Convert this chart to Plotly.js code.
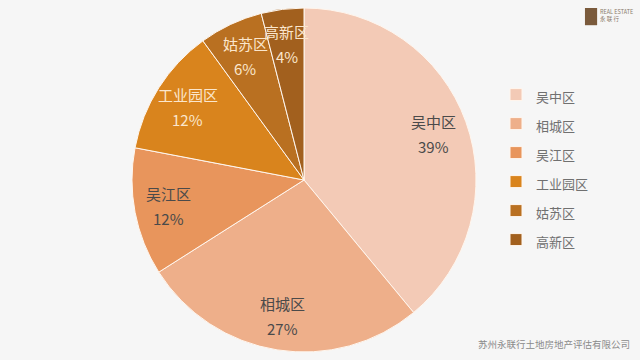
<!DOCTYPE html>
<html>
<head>
<meta charset="utf-8">
<script src="https://cdn.plot.ly/plotly-3.0.1.min.js"></script>
<style>
html,body{margin:0;padding:0;background:#f6f6f6;}
#chart{width:640px;height:360px;}
</style>
</head>
<body>
<div id="chart"></div>
<script>
const districts = ["吴中区", "相城区", "吴江区", "工业园区", "姑苏区", "高新区"];
const shares = [39, 27, 12, 12, 6, 4];
const sliceColors = ["#f3cab6", "#eeaf8a", "#e8955c", "#d9841d", "#b97021", "#a2601e"];
const textColors = ["#4a4a4a", "#4a4a4a", "#4a4a4a", "#fbe6cc", "#fbe6cc", "#fbe6cc"];

// pie geometry (paper units) used for label placement
const domX = [0.2, 0.75];
const cxPaper = (domX[0] + domX[1]) / 2;
const cyPaper = 0.5;
const W = 640, H = 360, mT = 8, mB = 8;
const plotH = H - mT - mB;
const Rpx = plotH / 2;
const labelFrac = 0.8;

const trace = {
  type: "pie",
  labels: districts.map(d => '<span style="font-size:13px">' + d + '</span>'),
  values: shares,
  sort: false,
  direction: "clockwise",
  rotation: 0,
  marker: {colors: sliceColors, line: {color: "#fff6ee", width: 1}},
  textinfo: "none",
  hoverinfo: "none",
  domain: {x: domX, y: [0, 1]}
};

const total = shares.reduce((a, b) => a + b, 0);
const annotations = [];
let cum = 0;
shares.forEach((v, i) => {
  const th = 2 * Math.PI * (cum + v / 2) / total;
  cum += v;
  const x = cxPaper + labelFrac * Rpx * Math.sin(th) / W;
  const y = cyPaper + labelFrac * Rpx * Math.cos(th) / plotH;
  const f = {family: "Noto Sans CJK SC", size: 15, color: textColors[i]};
  annotations.push({text: districts[i], xref: "paper", yref: "paper", x: x, y: y, xanchor: "center", yanchor: "middle", yshift: 12, showarrow: false, font: f});
  annotations.push({text: v + "%", xref: "paper", yref: "paper", x: x, y: y, xanchor: "center", yanchor: "middle", yshift: -13, showarrow: false, font: f});
});
annotations.push({text: "苏州永联行土地房地产评估有限公司", xref: "paper", yref: "paper", x: 0.988, y: -0.002, xanchor: "right", yanchor: "bottom", showarrow: false, font: {family: "Noto Sans CJK SC", size: 9.5, color: "#8a8a8a"}});
annotations.push({text: "REAL ESTATE<br>永 联 行", xref: "paper", yref: "paper", x: 0.935, y: 1.005, xanchor: "left", yanchor: "top", showarrow: false, align: "left", font: {family: "Noto Sans CJK SC", size: 5.5, color: "#8a7a6a"}});

const layout = {
  width: W,
  height: H,
  margin: {l: 0, r: 0, t: mT, b: mB},
  paper_bgcolor: "#f6f6f6",
  showlegend: true,
  legend: {
    x: 0.775, y: 0.805, xanchor: "left", yanchor: "top",
    font: {family: "Noto Sans CJK SC", size: 20, color: "#707070"},
    itemwidth: 30,
    bgcolor: "rgba(0,0,0,0)"
  },
  font: {family: "Noto Sans CJK SC"},
  shapes: [
    {type: "rect", xref: "paper", yref: "paper", x0: 0.914, x1: 0.933, y0: 0.95, y1: 1.0, fillcolor: "#7a5a3c", line: {width: 0}}
  ],
  annotations: annotations
};

Plotly.newPlot("chart", [trace], layout, {displayModeBar: false, staticPlot: true});
</script>
</body>
</html>
